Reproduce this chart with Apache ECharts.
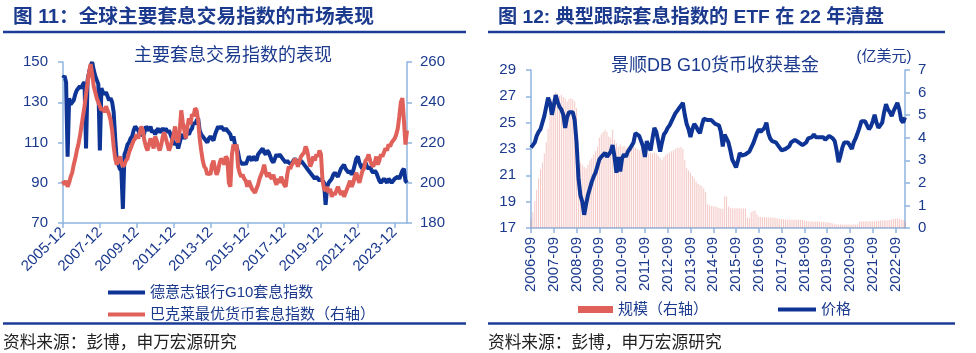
<!DOCTYPE html>
<html lang="zh">
  <head>
    <meta charset="UTF-8" />
    <title>套息指数</title>
    <script src="https://cdn.jsdelivr.net/npm/echarts@6/dist/echarts.min.js"></script>
    <style>
      body { margin: 0; background: #fff; }
      #main { width: 976px; height: 353px; }
    </style>
  </head>
  <body>
    <div id="main"></div>
    <script>
      // 左图：月度，2005-12 ~ 2024-08
      const leftMonths = [];
      for (let i = 0; i < 225; i++) {
        const t = 2005 * 12 + 11 + i;
        leftMonths.push(Math.floor(t / 12) + "-" + String((t % 12) + 1).padStart(2, "0"));
      }
      // 右图：月度，2006-09 ~ 2023-02
      const rightMonths = [];
      for (let i = 0; i < 198; i++) {
        const t = 2006 * 12 + 8 + i;
        rightMonths.push(Math.floor(t / 12) + "-" + String((t % 12) + 1).padStart(2, "0"));
      }

      // 德意志银行G10套息指数（左轴）
      const dbG10 = [142,
        143,140,103,132,129,129,131,134,136,137,138,137,
        139,140,107,141,145,148,150,146,143,141,139,106,
        137,135,134,135,133,131,132,130,125,112,101,99,
        97,96,77,104,106,109,110,112,113,116,118,117,
        116,114,117,113,115,118,117,116,118,115,116,114,
        116,117,115,116,117,116,117,115,116,114,112,110,
        109,110,107,110,113,114,112,113,115,114,116,117,
        120,119,121,122,116,114,113,112,111,110,112,113,
        112,111,114,116,118,117,118,117,116,117,116,115,
        114,111,113,109,108,105,101,100,99,100,99,101,
        103,102,101,103,102,101,104,105,106,107,105,104,
        106,105,103,101,100,102,104,103,104,103,102,101,
        100,101,100,100,99,101,102,101,99,100,101,100,
        99,98,97,96,95,94,93,92,93,92,91,92,
        91,90,79,88,90,91,92,94,95,94,93,95,
        97,98,99,97,96,95,96,94,96,99,102,103,
        100,98,97,99,100,98,97,98,96,95,96,95,
        93,91,90,91,92,91,90,92,91,90,91,92,
        92,93,92,94,96,97,91,90];

      // 巴克莱最优货币套息指数（右轴）
      const barclays = [201,
        199,201,198,200,203,205,209,212,216,219,223,228,
        233,238,244,250,255,259,254,248,245,242,240,238,
        236,237,235,238,236,234,231,226,218,212,209,211,
        213,210,208,209,211,212,215,217,219,221,222,224,
        222,225,228,226,221,218,216,219,222,220,217,223,
        221,218,216,219,223,225,222,219,216,218,221,224,
        228,222,220,226,236,230,226,222,228,232,229,234,
        233,237,236,231,222,216,211,208,207,204,205,204,
        209,211,207,204,206,210,212,211,209,213,212,200,
        198,214,219,216,219,208,205,203,204,202,201,198,
        201,199,197,196,195,197,199,202,204,206,209,205,
        203,205,203,202,204,201,199,202,200,203,201,199,
        198,204,208,207,209,210,212,210,208,211,213,214,
        215,218,216,212,208,210,213,211,214,213,216,214,
        201,197,196,198,195,197,193,195,194,196,198,196,
        194,196,193,195,197,199,201,198,200,203,205,202,
        200,203,206,207,211,212,214,211,209,208,210,213,
        209,211,214,213,215,217,216,219,218,220,221,222,
        224,227,233,240,242,231,219,226];

      // 景顺DB G10货币收获基金 价格
      const etfPrice = [
        23.1,23.3,23.5,24.0,24.3,24.5,25.0,25.5,26.2,26.9,26.5,25.6,
        26.3,27.1,26.6,26.2,26.0,25.6,24.6,25.4,25.8,25.9,25.8,25.2,
        23.5,20.8,19.5,19.0,18.0,18.8,19.5,20.0,20.5,20.9,21.2,21.7,
        22.2,22.4,22.3,22.7,22.4,22.6,22.8,23.3,22.4,21.2,22.4,21.3,
        22.3,22.6,22.4,22.8,23.0,23.1,23.5,24.2,24.1,24.0,23.6,23.2,
        22.4,23.6,23.2,22.9,23.8,24.6,24.3,23.6,22.8,23.5,24.1,24.3,
        24.6,24.8,25.1,25.4,25.7,25.9,26.1,26.3,26.5,25.6,24.9,24.5,
        23.9,24.5,24.9,24.7,24.4,24.2,24.8,25.3,25.2,25.2,25.3,25.2,
        25.3,24.9,24.8,24.8,24.3,23.2,24.1,24.1,23.5,22.9,22.2,21.9,
        21.6,22.1,22.7,22.5,22.4,22.6,22.7,22.8,22.9,23.4,23.8,24.2,
        24.5,24.3,24.2,24.6,25.0,24.2,23.8,23.6,23.6,23.5,23.3,23.2,
        22.9,22.8,23.0,23.0,23.2,23.5,23.6,23.7,23.7,23.5,23.4,23.3,
        23.2,23.5,23.8,23.9,23.9,24.1,23.9,23.8,23.9,23.8,23.9,23.7,
        23.8,24.0,24.1,23.8,23.6,22.9,22.0,22.5,23.1,23.5,23.6,23.5,
        23.4,23.0,23.5,23.8,24.2,24.6,25.1,25.2,25.1,24.8,24.5,24.7,
        25.1,25.6,25.0,24.6,24.8,25.0,25.8,26.4,26.0,25.8,25.5,25.9,
        26.2,26.5,26.0,25.2,25.0,25.4];

      // 规模（亿美元，右轴）
      const etfAum = [
        0.4,0.7,1.2,1.7,2.2,2.6,2.9,3.3,3.8,4.4,5.2,5.7,
        5.9,6.0,5.95,5.85,5.9,5.8,5.75,5.6,5.7,5.75,5.7,5.6,
        5.3,3.3,2.9,2.8,2.7,2.65,2.8,3.0,3.1,3.25,3.4,3.6,
        4.0,4.15,4.25,4.35,4.25,4.05,4.0,4.35,3.9,3.75,3.6,3.7,
        3.6,3.65,3.55,3.6,3.55,3.5,3.6,3.55,3.5,3.45,3.5,3.45,
        3.4,3.7,3.3,3.35,3.3,3.35,3.3,3.2,3.1,3.0,3.15,3.25,
        3.3,3.35,3.4,3.45,3.5,3.55,3.55,3.6,3.5,3.0,2.65,2.55,
        2.45,2.3,2.2,2.05,1.95,1.9,1.85,1.75,1.6,1.05,1.0,0.98,
        0.97,0.95,0.92,0.9,0.86,0.85,1.4,1.4,0.95,0.9,0.88,0.88,
        0.88,0.87,0.88,0.88,0.86,0.86,0.45,0.45,0.7,0.75,0.78,0.6,
        0.5,0.5,0.49,0.48,0.48,0.47,0.47,0.46,0.45,0.44,0.42,0.4,
        0.4,0.39,0.38,0.38,0.37,0.37,0.37,0.36,0.37,0.36,0.36,0.35,
        0.33,0.31,0.3,0.29,0.29,0.29,0.28,0.29,0.28,0.28,0.27,0.26,
        0.25,0.24,0.22,0.2,0.18,0.16,0.15,0.15,0.15,0.14,0.15,0.15,
        0.14,0.15,0.15,0.15,0.16,0.28,0.29,0.29,0.3,0.29,0.3,0.29,
        0.3,0.3,0.31,0.32,0.33,0.33,0.34,0.33,0.34,0.35,0.38,0.4,
        0.41,0.42,0.4,0.38,0.35,0.3];

      const FONT = 'Arial, "Liberation Sans", "Noto Sans CJK SC", sans-serif';
      const NAVY = "#1b3a8e";
      const LINE_BLUE = "#0e3596";
      const CORAL = "#e0605a";
      const AXIS = "#8fb5e0";

      const chart = echarts.init(document.getElementById("main"));

      const axisText = { color: NAVY, fontSize: 15, fontFamily: FONT };
      const axisLine = { show: true, lineStyle: { color: AXIS, width: 1.5 } };
      const axisTick = { show: true, length: 5, lineStyle: { color: AXIS, width: 1.5 } };

      function txt(x, y, text, font, fill, align) {
        return { type: "text", x: x, y: y, silent: true,
          style: { text: text, font: font, fill: fill, align: align || "left", verticalAlign: "middle" } };
      }
      function hline(x1, x2, y) {
        return { type: "line", silent: true, shape: { x1: x1, y1: y, x2: x2, y2: y },
          style: { stroke: "#1a3c96", lineWidth: 2.5 } };
      }

      const option = {
        animation: false,
        backgroundColor: "#fff",
        textStyle: { fontFamily: FONT },
        graphic: [
          txt(13, 18, "图 11：全球主要套息交易指数的市场表现", "bold 19.7px " + FONT, NAVY),
          txt(498, 18, "图 12: 典型跟踪套息指数的 ETF 在 22 年清盘", "bold 19.2px " + FONT, NAVY),
          hline(3, 466, 32),
          hline(488, 945, 32),
          txt(233, 56, "主要套息交易指数的表现", "18px " + FONT, NAVY, "center"),
          txt(715, 66, "景顺DB G10货币收获基金", "18px " + FONT, NAVY, "center"),
          txt(884, 57, "(亿美元)", "15px " + FONT, NAVY, "center"),
          hline(3, 466, 323.5),
          hline(488, 955, 323.5),
          txt(3, 343, "资料来源：彭博，申万宏源研究", "16.7px " + FONT, "#222"),
          txt(488, 343, "资料来源：彭博，申万宏源研究", "16.7px " + FONT, "#222")
        ],
        legend: [
          { left: 103, top: 280, itemWidth: 37, itemHeight: 4, icon: "rect", itemGap: 4,
            textStyle: { color: NAVY, fontSize: 15, fontFamily: FONT },
            data: ["德意志银行G10套息指数"] },
          { left: 103, top: 302, itemWidth: 37, itemHeight: 4, icon: "rect", itemGap: 4,
            textStyle: { color: NAVY, fontSize: 15, fontFamily: FONT },
            data: ["巴克莱最优货币套息指数（右轴）"] },
          { left: 573, top: 297, itemWidth: 35, itemHeight: 7, icon: "rect",
            textStyle: { color: NAVY, fontSize: 15, fontFamily: FONT },
            data: [{ name: "规模（右轴）", itemStyle: { color: CORAL, opacity: 1 } }] },
          { left: 773, top: 297, itemWidth: 38, itemHeight: 4, icon: "rect",
            textStyle: { color: NAVY, fontSize: 15, fontFamily: FONT },
            data: ["价格"] }
        ],
        grid: [
          { left: 63, top: 62, width: 344, height: 161 },
          { left: 531, top: 70, width: 374, height: 158 }
        ],
        xAxis: [
          { type: "category", gridIndex: 0, data: leftMonths, boundaryGap: false,
            axisLine: axisLine,
            axisTick: Object.assign({}, axisTick, { interval: (i) => i % 24 === 0 }),
            axisLabel: Object.assign({}, axisText, { rotate: 45, fontSize: 15, margin: 7,
              interval: (i) => i % 24 === 0 }) },
          { type: "category", gridIndex: 1, data: rightMonths, boundaryGap: false,
            axisLine: axisLine,
            axisTick: Object.assign({}, axisTick, { interval: (i) => i % 12 === 0 }),
            axisLabel: Object.assign({}, axisText, { rotate: 90, fontSize: 15, margin: 9,
              interval: (i) => i % 12 === 0 }) }
        ],
        yAxis: [
          { type: "value", gridIndex: 0, min: 70, max: 150, interval: 20, position: "left",
            axisLine: axisLine, axisTick: axisTick, splitLine: { show: false },
            axisLabel: Object.assign({}, axisText, { margin: 15 }) },
          { type: "value", gridIndex: 0, min: 180, max: 260, interval: 20, position: "right",
            axisLine: axisLine, axisTick: axisTick, splitLine: { show: false },
            axisLabel: Object.assign({}, axisText, { margin: 13 }) },
          { type: "value", gridIndex: 1, min: 17, max: 29, interval: 2, position: "left",
            axisLine: axisLine, axisTick: axisTick, splitLine: { show: false },
            axisLabel: Object.assign({}, axisText, { margin: 15 }) },
          { type: "value", gridIndex: 1, min: 0, max: 7, interval: 1, position: "right",
            axisLine: axisLine, axisTick: axisTick, splitLine: { show: false },
            axisLabel: Object.assign({}, axisText, { margin: 13 }) }
        ],
        series: [
          { name: "德意志银行G10套息指数", type: "line", xAxisIndex: 0, yAxisIndex: 0,
            data: dbG10, showSymbol: false, color: LINE_BLUE,
            lineStyle: { width: 4, color: LINE_BLUE } },
          { name: "巴克莱最优货币套息指数（右轴）", type: "line", xAxisIndex: 0, yAxisIndex: 1,
            data: barclays, showSymbol: false, color: CORAL,
            lineStyle: { width: 4, color: CORAL } },
          { name: "规模（右轴）", type: "bar", xAxisIndex: 1, yAxisIndex: 3,
            data: etfAum, barWidth: 1, color: CORAL,
            itemStyle: { color: CORAL, opacity: 0.35 } },
          { name: "价格", type: "line", xAxisIndex: 1, yAxisIndex: 2,
            data: etfPrice, showSymbol: false, color: LINE_BLUE,
            lineStyle: { width: 4, color: LINE_BLUE } }
        ]
      };

      chart.setOption(option);
    </script>
  </body>
</html>
